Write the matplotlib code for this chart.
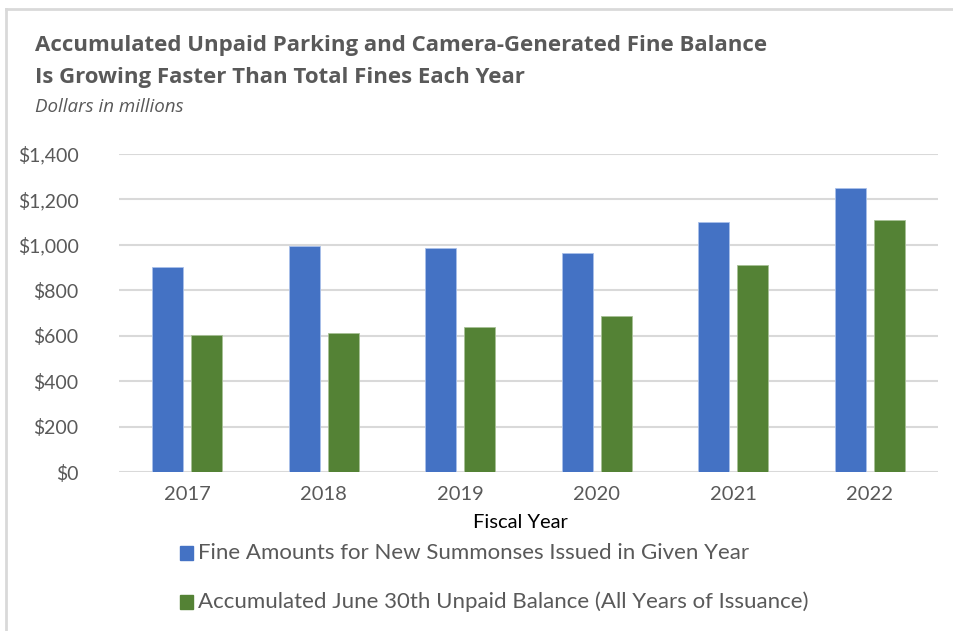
import numpy as np
import matplotlib.pyplot as plt
from matplotlib.lines import Line2D

years = ["2017", "2018", "2019", "2020", "2021", "2022"]
fines_issued = [901, 995, 985, 966, 1102, 1252]
unpaid_balance = [602, 611, 637, 688, 911, 1109]
series_names = ["Fine Amounts for New Summonses Issued in Given Year",
                "Accumulated June 30th Unpaid Balance (All Years of Issuance)"]
yticks = [0, 200, 400, 600, 800, 1000, 1200, 1400]

blue = "#4472C4"
green = "#548235"
grey_txt = "#595959"
font = "Lato"

fig = plt.figure(figsize=(9.54, 6.31), dpi=100)
ax = fig.add_axes([119/954, 1 - 472/631, (938 - 119)/954, (472 - 154)/631])

x = np.arange(len(years))
w = 0.227
off = 0.143
ax.bar(x - off, fines_issued, w, color=blue, edgecolor="#a9c0ea", linewidth=0.6, zorder=3)
ax.bar(x + off, unpaid_balance, w, color=green, edgecolor="#a7c096", linewidth=0.6, zorder=3)

ax.set_xlim(-0.5, len(years) - 0.5)
ax.set_ylim(0, 1400)
ax.set_yticks(yticks)
ax.set_yticklabels(["${:,}".format(v) for v in yticks], family=font, fontsize=14, color=grey_txt)
ax.set_xticks(x)
ax.set_xticklabels(years, family=font, fontsize=14.5, color=grey_txt)
ax.tick_params(length=0)
ax.tick_params(axis="y", pad=29)
ax.tick_params(axis="x", pad=10)
ax.grid(axis="y", color="#d9d9d9", linewidth=1.5, zorder=0)
for s in ax.spines.values():
    s.set_visible(False)

fig.text(520/954, 1 - 522/631, "Fiscal Year", family=font, fontsize=14.5, color="black",
         ha="center", va="center")

# title block
fig.text(35/954, 1 - 46/631, "Accumulated Unpaid Parking and Camera-Generated Fine Balance",
         family="Open Sans", fontsize=16, fontweight="bold", color=grey_txt, va="center")
fig.text(35/954, 1 - 77/631, "Is Growing Faster Than Total Fines Each Year",
         family="Open Sans", fontsize=16, fontweight="bold", color=grey_txt, va="center")
fig.text(35/954, 1 - 107/631, "Dollars in millions",
         family="Open Sans", fontsize=13.5, style="italic", color=grey_txt, va="center")

# legend
for i, (name, c) in enumerate(zip(series_names, [blue, green])):
    yy = 1 - (553 + 49*i)/631
    fig.patches.append(plt.Rectangle((180/954, yy - 7/631), 13/954, 14/631,
                                     transform=fig.transFigure, color=c))
    fig.text(198/954, yy, name, family=font, fontsize=16, color=grey_txt, va="center")

# frame lines (top and left)
fig.add_artist(Line2D([6/954, 1], [1 - 9/631, 1 - 9/631], color="#d9d9d9", lw=2,
                      transform=fig.transFigure))
fig.add_artist(Line2D([6/954, 6/954], [0, 1 - 9/631], color="#d9d9d9", lw=2,
                      transform=fig.transFigure))

fig.savefig("out.png", dpi=100)
